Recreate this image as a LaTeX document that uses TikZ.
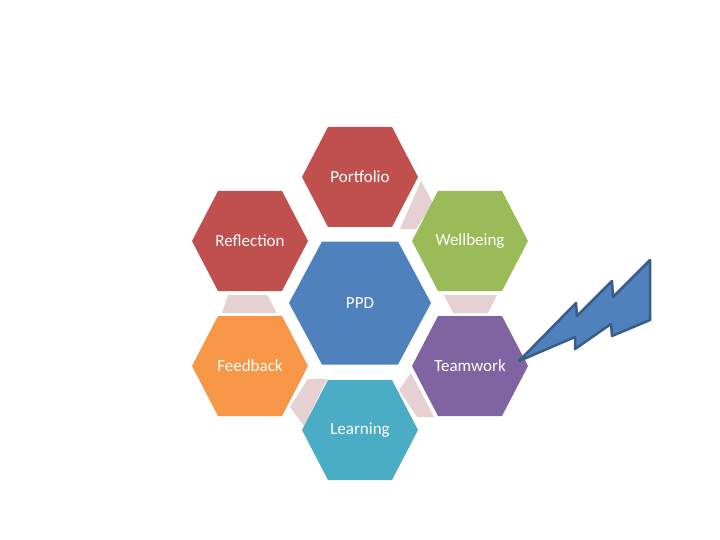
\documentclass[tikz,border=0pt]{standalone}
\usepackage{fontspec}
\setmainfont{Carlito}
\definecolor{cred}{HTML}{C0504D}
\definecolor{cgreen}{HTML}{9BBB59}
\definecolor{cblue}{HTML}{4F81BD}
\definecolor{corange}{HTML}{F79646}
\definecolor{cpurple}{HTML}{8064A2}
\definecolor{cteal}{HTML}{4BACC6}
\definecolor{cpink}{HTML}{E5D0D2}
\definecolor{cbolt}{HTML}{385D8A}
\tikzset{
  lbl/.style={text=white, font=\fontsize{17}{20}\selectfont, inner sep=0pt},
  conn/.style={fill=cpink},
  boltshape/.style={fill=cblue, draw=cbolt, line width=2.5pt, line join=round}
}
\newcommand{\smallhex}[3]{%
  \fill[#3] (#1-58,#2) -- (#1-32,#2-50) -- (#1+32,#2-50) -- (#1+58,#2) -- (#1+32,#2+50) -- (#1-32,#2+50) -- cycle;}
\begin{document}
\begin{tikzpicture}[x=1pt,y=-1pt]
\useasboundingbox (0,0) rectangle (720,540);
\fill[white] (0,0) rectangle (720,540);
% connectors
\fill[conn] (421,181) -- (433,203) -- (416,229) -- (400,229) -- cycle;
\fill[conn] (444,295) -- (497,295) -- (488,313) -- (453,313) -- cycle;
\fill[conn] (228,295) -- (267,295) -- (277,313) -- (222,313) -- cycle;
\fill[conn] (308,379) -- (327,379) -- (304,426) -- (290,407) -- cycle;
\fill[conn] (411,373) -- (399,390) -- (417,417) -- (434,417) -- cycle;
% hexagons
\smallhex{360}{177}{cred}
\smallhex{250}{241}{cred}
\smallhex{470}{241}{cgreen}
\smallhex{250}{366}{corange}
\smallhex{470}{366}{cpurple}
\smallhex{360}{430}{cteal}
\fill[cblue] (289,303) -- (322,241.5) -- (398,241.5) -- (431,303) -- (398,364.5) -- (322,364.5) -- cycle;
% labels
\node[lbl] (portfolio) at (360,177) {Portfolio};
\node[lbl] (reflection) at (250,241) {Reflection};
\node[lbl] (wellbeing) at (470,241) {Wellbeing};
\node[lbl] (ppd) at (360,303) {PPD};
\node[lbl] (feedback) at (250,366) {Feedback};
\node[lbl] (teamwork) at (470,366) {Teamwork};
\node[lbl] (learning) at (360,430) {Learning};
% lightning bolt
\draw[boltshape] (519,361) -- (576,303) -- (577,316) -- (612,281) -- (613,297) -- (650,260) -- (650,320) -- (612,336) -- (611,324) -- (575,349) -- (575,337) -- cycle;
\end{tikzpicture}
\end{document}
